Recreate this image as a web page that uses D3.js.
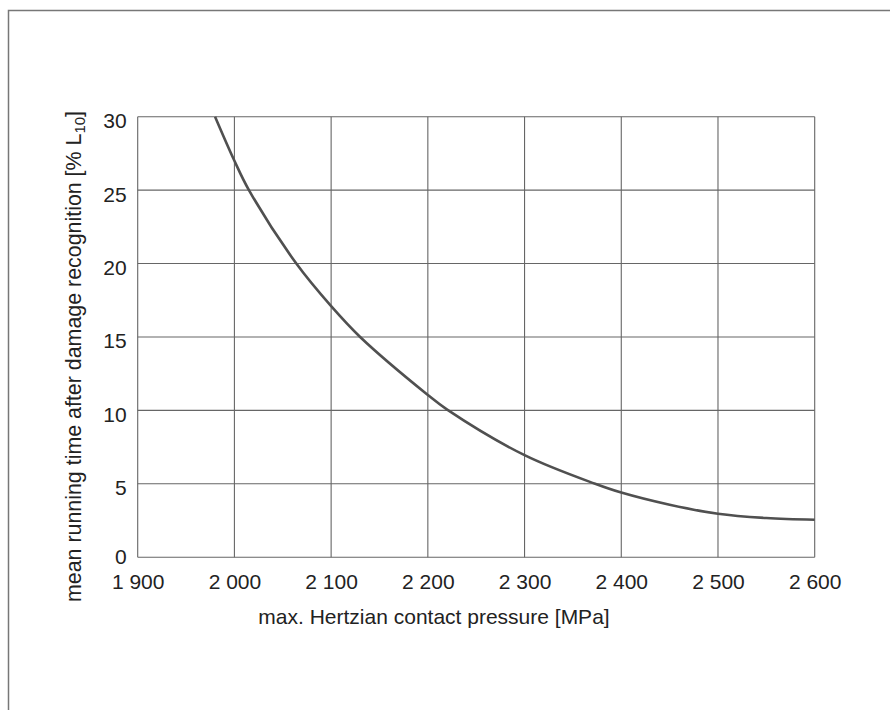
<!DOCTYPE html>
<html>
<head>
<meta charset="utf-8">
<script src="https://cdn.jsdelivr.net/npm/d3@7"></script>
<style>
  html, body { margin: 0; padding: 0; background: #fff; }
  svg { display: block; }
  text { font-family: "Liberation Sans", Arial, Helvetica, sans-serif; fill: #222; }
</style>
</head>
<body>
<svg id="chart" width="890" height="710"></svg>
<script>
// ---- data ----
const pressure = [1980, 2000, 2015, 2064, 2100, 2130, 2200, 2220, 2300, 2373, 2400, 2450, 2500, 2550, 2600];
const runningTime = [30, 27.0, 25, 20, 17.1, 15, 11.05, 10.05, 6.95, 5, 4.4, 3.57, 2.96, 2.67, 2.55];
const xTicks = [1900, 2000, 2100, 2200, 2300, 2400, 2500, 2600];
const yTicks = [0, 5, 10, 15, 20, 25, 30];
const xTitle = "max. Hertzian contact pressure [MPa]";
const yTitleMain = "mean running time after damage recognition [% L";
const yTitleSub = "10";
const yTitleEnd = "]";

(function () {
const svg = d3.select("#chart");
const pL = 137.7, pR = 814.7, pT = 116.7, pB = 557.2;

const x = d3.scaleLinear().domain([1900, 2600]).range([pL, pR]);
const y = d3.scaleLinear().domain([0, 30]).range([pB, pT]);

// outer frame (top and left edges)
svg.append("path")
  .attr("d", `M8.5,710 L8.5,10.5 L890,10.5`)
  .attr("fill", "none").attr("stroke", "#777").attr("stroke-width", 1.5);

// grid
const grid = svg.append("g");
grid.selectAll("line.v").data(xTicks).join("line").attr("class", "v")
  .attr("x1", d => x(d)).attr("x2", d => x(d))
  .attr("y1", pT).attr("y2", pB)
  .attr("stroke", "#666").attr("stroke-width", 1.1);
grid.selectAll("line.h").data(yTicks).join("line").attr("class", "h")
  .attr("x1", pL).attr("x2", pR)
  .attr("y1", d => y(d)).attr("y2", d => y(d))
  .attr("stroke", "#666").attr("stroke-width", 1.1);

const fmt = d => d >= 1000 ? d3.format(",")(d).replace(",", " ") : String(d);
const xAxis = svg.append("g").attr("transform", `translate(0,${pB})`)
  .call(d3.axisBottom(x).tickValues(xTicks).tickFormat(fmt).tickSize(0).tickPadding(0));
xAxis.select(".domain").remove();
xAxis.selectAll("text").attr("font-size", 21).attr("dy", null).attr("y", 32)
  .attr("font-family", "Liberation Sans, Arial, sans-serif").attr("fill", "#222");

const yAxis = svg.append("g").attr("transform", `translate(${pL},0)`)
  .call(d3.axisLeft(y).tickValues(yTicks).tickFormat(fmt).tickSize(0).tickPadding(0));
yAxis.select(".domain").remove();
yAxis.selectAll("text").attr("font-size", 21).attr("x", -11)
  .attr("dy", d => d === 0 ? "0.3em" : "0.52em")
  .attr("font-family", "Liberation Sans, Arial, sans-serif").attr("fill", "#222");

// curve
const pts = pressure.map((p, i) => [p, runningTime[i]]);
const line = d3.line().x(d => x(d[0])).y(d => y(d[1])).curve(d3.curveCatmullRom.alpha(0.5));
svg.append("path").datum(pts)
  .attr("d", line)
  .attr("fill", "none").attr("stroke", "#505050").attr("stroke-width", 2.6);

// x title
svg.append("text")
  .attr("x", 434).attr("y", 624)
  .attr("text-anchor", "middle").attr("font-size", 21)
  .text(xTitle);

// y title
const yt = svg.append("text")
  .attr("transform", `translate(81,356.5) rotate(-90)`)
  .attr("text-anchor", "middle").attr("font-size", 21.4);
yt.append("tspan").text(yTitleMain);
yt.append("tspan").attr("font-size", 15).attr("dy", 4).text(yTitleSub);
yt.append("tspan").attr("dy", -4).text(yTitleEnd);
})();
</script>
</body>
</html>
